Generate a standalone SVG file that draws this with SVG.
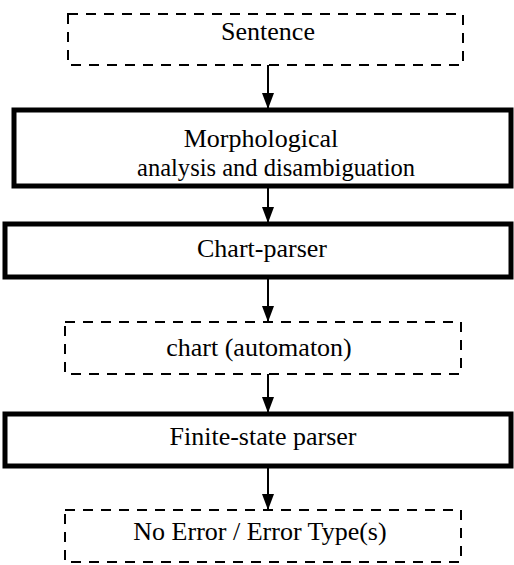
<svg xmlns="http://www.w3.org/2000/svg" width="514" height="565" viewBox="0 0 514 565">
<style>
.dash{fill:#fff;stroke:#000;stroke-width:2;stroke-dasharray:10 8}
.thick{fill:#fff;stroke:#000;stroke-width:5}
.t{font-family:"Liberation Serif","Times New Roman",serif;font-size:26px;fill:#000;text-anchor:middle}
.c{stroke:#000;stroke-width:2;fill:none}
</style>
<defs>
<marker id="ah" markerWidth="16" markerHeight="12" refX="16" refY="6" orient="auto" markerUnits="userSpaceOnUse">
<path d="M0,0 L16,6 L0,12 Z" fill="#000"/>
</marker>
</defs>
<g id="connectors">
<line class="c" x1="268" y1="65" x2="268" y2="109" marker-end="url(#ah)"/>
<line class="c" x1="268" y1="186" x2="268" y2="223" marker-end="url(#ah)"/>
<line class="c" x1="268" y1="277" x2="268" y2="322" marker-end="url(#ah)"/>
<line class="c" x1="268" y1="374" x2="268" y2="413" marker-end="url(#ah)"/>
<line class="c" x1="268" y1="466" x2="268" y2="510" marker-end="url(#ah)"/>
</g>
<g id="sentence">
<rect class="dash" x="68" y="14" width="395" height="51"/>
<text class="t" x="268" y="40">Sentence</text>
</g>
<g id="morph">
<rect class="thick" x="14" y="110" width="497" height="76"/>
<text class="t" x="261" y="147">Morphological</text>
<text class="t" x="276" y="176" textLength="278" lengthAdjust="spacingAndGlyphs">analysis and disambiguation</text>
</g>
<g id="chartparser">
<rect class="thick" x="5" y="224" width="506" height="53"/>
<text class="t" x="262" y="257">Chart-parser</text>
</g>
<g id="chart">
<rect class="dash" x="65" y="322" width="396" height="52"/>
<text class="t" x="259" y="356">chart (automaton)</text>
</g>
<g id="fsparser">
<rect class="thick" x="5" y="414" width="506" height="52"/>
<text class="t" x="263" y="445">Finite-state parser</text>
</g>
<g id="result">
<rect class="dash" x="65" y="510" width="396" height="52"/>
<text class="t" x="260" y="540">No Error / Error Type(s)</text>
</g>
</svg>
